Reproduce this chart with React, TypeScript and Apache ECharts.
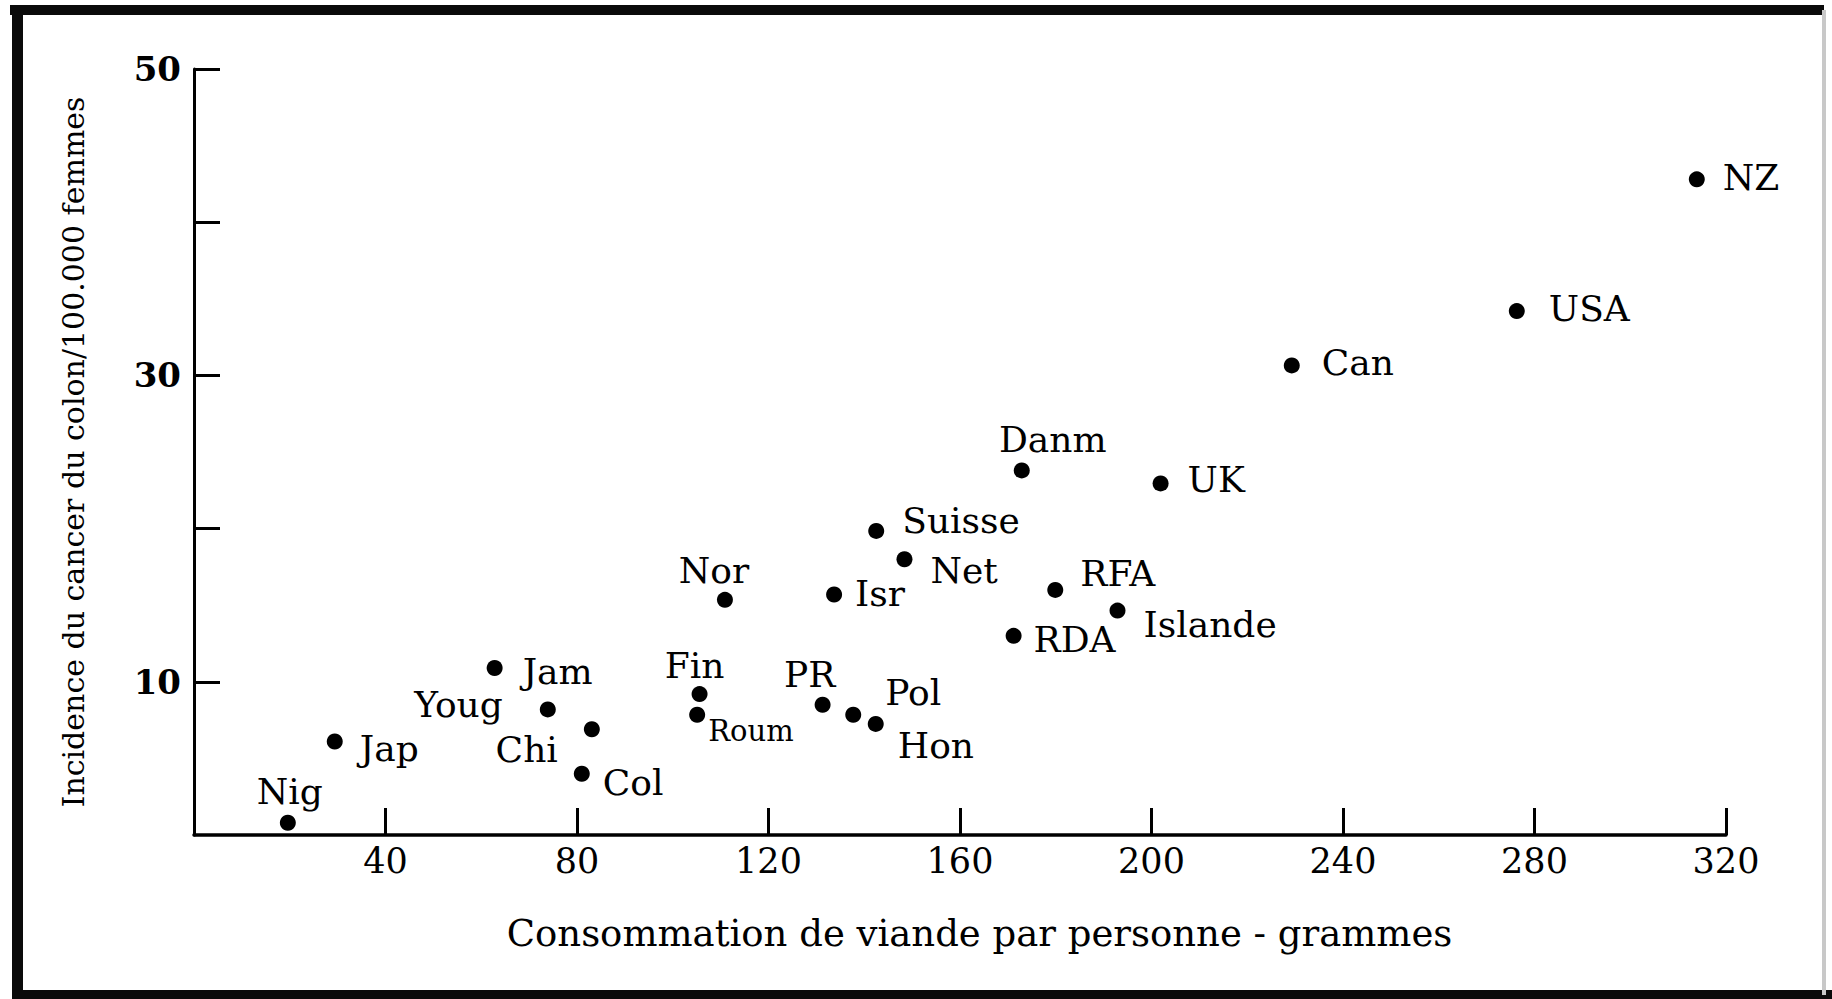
import React, { useEffect, useRef } from "react";
import * as echarts from "echarts";

// ---- data ----
const countries = ["Nig", "Jap", "Jam", "Youg", "Chi", "Col", "Fin", "Roum", "Nor", "PR", "Isr", "Pol", "Hon", "Suisse", "Net", "Danm", "RDA", "RFA", "Islande", "UK", "Can", "USA", "NZ"];
const meatGrams = [19.6, 29.4, 62.8, 73.9, 83.1, 81.0, 105.6, 105.1, 110.9, 131.3, 133.7, 137.7, 142.4, 142.5, 148.4, 172.9, 171.2, 179.9, 192.9, 201.9, 229.3, 276.3, 313.9];
const colonIncidence = [0.8, 6.1, 10.9, 8.2, 6.9, 4.0, 9.2, 7.85, 15.35, 8.5, 15.7, 7.85, 7.25, 19.85, 18.0, 23.8, 13.0, 16.0, 14.65, 22.95, 30.65, 34.2, 42.8];
const xTickValues = [40, 80, 120, 160, 200, 240, 280, 320];
const yTickValues = [10, 20, 30, 40, 50];
const yLabelValues = [10, 30, 50];
const xTitle = "Consommation de viande par personne - grammes";
const yTitle = "Incidence du cancer du colon/100.000 femmes";

// ---- label placement (offset from the dot centre, alignment) ----
const labelPlacement: Record<string, [number, number, string]> = {
  Nig: [2, -31, "center"],
  Jap: [25, 7, "left"],
  Jam: [28, 3, "left"],
  Youg: [-45, -5, "right"],
  Chi: [-34, 20, "right"],
  Col: [21, 9, "left"],
  Fin: [-5, -29, "center"],
  Roum: [11, 16, "left"],
  Nor: [-11, -29, "center"],
  PR: [-13, -30, "center"],
  Isr: [21, -1, "left"],
  Pol: [32, -22, "left"],
  Hon: [22, 22, "left"],
  Suisse: [26, -10, "left"],
  Net: [26, 11, "left"],
  Danm: [31, -31, "center"],
  RDA: [20, 4, "left"],
  RFA: [25, -16, "left"],
  Islande: [26, 14, "left"],
  UK: [27, -4, "left"],
  Can: [30, -3, "left"],
  USA: [32, -3, "left"],
  NZ: [26, -2, "left"],
};

const SYMBOL = 16;
const serif = "DejaVu Serif";
const INK = "#000000";

export default function App() {
  const ref = useRef<HTMLDivElement>(null);

  useEffect(() => {
    if (!ref.current) return;
    const chart = echarts.init(ref.current, null, { renderer: "svg" });

    const data = countries.map((name, i) => {
      const [dx, dy, align] = labelPlacement[name];
      return {
        name,
        value: [meatGrams[i], colonIncidence[i]],
        label: {
          show: true,
          formatter: name,
          position: [SYMBOL / 2 + dx, SYMBOL / 2 + dy],
          align,
          verticalAlign: "middle",
          color: INK,
          fontSize: name === "Roum" ? 29 : 36,
        },
      };
    });

    chart.setOption({
      animation: false,
      backgroundColor: "#ffffff",
      grid: { left: 194, right: 106, top: 69, bottom: 164, containLabel: false },
      xAxis: {
        type: "value",
        min: 0,
        max: 320,
        interval: 40,
        name: xTitle,
        nameLocation: "middle",
        nameGap: 80,
        nameTextStyle: { fontFamily: serif, fontSize: 37, color: INK, padding: [0, 0, 0, 39] },
        axisLine: { show: true, onZero: false, lineStyle: { color: INK, width: 3.5 } },
        axisTick: { show: true, inside: true, length: 27, customValues: xTickValues, lineStyle: { color: INK, width: 3 } },
        axisLabel: { show: true, customValues: xTickValues, margin: 8, fontFamily: serif, fontSize: 35, color: INK },
        splitLine: { show: false },
      },
      yAxis: {
        type: "value",
        min: 0,
        max: 50,
        interval: 10,
        name: yTitle,
        nameLocation: "middle",
        nameGap: 106,
        nameRotate: 90,
        nameTextStyle: { fontFamily: serif, fontSize: 30, color: INK },
        axisLine: { show: true, onZero: false, lineStyle: { color: INK, width: 3 } },
        axisTick: { show: true, inside: true, length: 26, customValues: yTickValues, lineStyle: { color: INK, width: 3 } },
        axisLabel: { show: true, customValues: yLabelValues, margin: 13, fontFamily: serif, fontWeight: "bold", fontSize: 34, color: INK },
        splitLine: { show: false },
      },
      series: [
        {
          type: "scatter",
          symbol: "circle",
          symbolSize: SYMBOL,
          itemStyle: { color: INK, opacity: 1 },
          label: { show: true, color: INK, fontFamily: serif, fontSize: 36 },
          labelLayout: { hideOverlap: false },
          data,
        },
      ],
      graphic: [
        { type: "rect", silent: true, shape: { x: 10, y: 5, width: 1814, height: 10 }, style: { fill: "#0a0a0a" } },
        { type: "rect", silent: true, shape: { x: 12, y: 5, width: 11, height: 994 }, style: { fill: "#0a0a0a" } },
        { type: "rect", silent: true, shape: { x: 12, y: 990, width: 1820, height: 9 }, style: { fill: "#0a0a0a" } },
        { type: "rect", silent: true, shape: { x: 1822, y: 10, width: 4, height: 985 }, style: { fill: "#c8c8c8" } },
      ],
    });

    return () => chart.dispose();
  }, []);

  return (
    <div
      ref={ref}
      style={{ position: "absolute", left: 0, top: 0, width: 1832, height: 999, background: "#fff" }}
    />
  );
}
